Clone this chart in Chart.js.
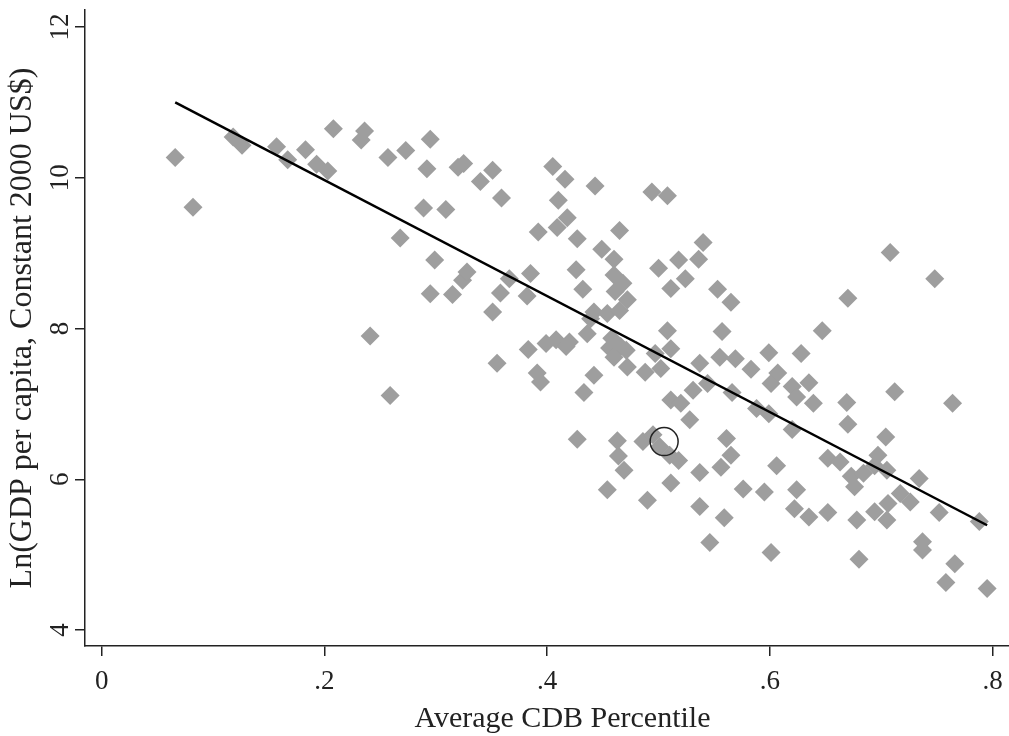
<!DOCTYPE html>
<html>
<head>
<meta charset="utf-8">
<title>CDB percentile vs GDP per capita</title>
<script src="https://cdn.jsdelivr.net/npm/chart.js@4.4.0/dist/chart.umd.min.js"></script>
<style>
  body { margin: 0; background: #fff; overflow: hidden; }
  canvas { display: block; }
</style>
</head>
<body>
<!-- canvas is wider than the window: the original figure is cropped on the right -->
<canvas id="cdbScatter" width="1040" height="736"></canvas>
<script>
// country points: average CDB percentile vs ln(GDP per capita)
const cdbPercentile = [
  0.066, 0.082, 0.118, 0.126, 0.157, 0.167, 0.183, 0.193, 0.203, 0.208, 0.233, 0.236, 0.241, 0.257, 0.259, 0.268, 0.273, 0.289, 0.292, 0.295, 0.295, 0.299, 0.309, 0.315,
  0.320, 0.325, 0.324, 0.328, 0.340, 0.351, 0.351, 0.355, 0.358, 0.359, 0.366, 0.382, 0.383, 0.385, 0.391, 0.392, 0.394, 0.399, 0.405, 0.408, 0.409, 0.410, 0.416, 0.417, 0.418, 0.420,
  0.426, 0.427, 0.427, 0.432, 0.433, 0.436, 0.439, 0.442, 0.442, 0.443, 0.449, 0.454, 0.454, 0.456, 0.458, 0.460, 0.460, 0.460, 0.461, 0.463, 0.464, 0.465, 0.465, 0.466, 0.468, 0.469, 0.471, 0.472, 0.472,
  0.486, 0.488, 0.490, 0.494, 0.495, 0.497, 0.500, 0.501, 0.502, 0.508, 0.508, 0.510, 0.511, 0.511, 0.511, 0.511, 0.518, 0.518, 0.520, 0.524, 0.528, 0.531, 0.536, 0.537, 0.537, 0.537, 0.540, 0.544, 0.546,
  0.553, 0.555, 0.556, 0.557, 0.559, 0.561, 0.565, 0.565, 0.566, 0.569, 0.576, 0.583, 0.588, 0.595, 0.599, 0.599, 0.601, 0.601, 0.606, 0.607,
  0.620, 0.620, 0.622, 0.624, 0.624, 0.628, 0.635, 0.635, 0.639, 0.647, 0.652, 0.652, 0.663, 0.669, 0.670, 0.670, 0.673, 0.676, 0.678, 0.680, 0.684, 0.694, 0.694, 0.697,
  0.704, 0.705, 0.705, 0.706, 0.708, 0.712, 0.717, 0.726, 0.734, 0.737, 0.737, 0.748, 0.752, 0.758, 0.764, 0.766, 0.788, 0.795
];
const lnGdp = [
  10.27, 9.61, 10.54, 10.43, 10.41, 10.24, 10.37, 10.18, 10.09, 10.65, 10.50, 10.62, 7.90, 10.27, 7.11, 9.20, 10.36, 9.60, 10.12, 8.46, 10.51, 8.91, 9.58, 8.45,
  10.14, 10.19, 8.64, 8.75, 9.95, 10.10, 8.22, 7.54, 8.47, 9.73, 8.66, 8.43, 7.72, 8.73, 7.41, 9.28, 7.29, 7.80, 10.15, 7.85, 9.34, 9.70, 9.98, 7.76, 9.47, 7.82,
  8.78, 9.19, 6.53, 8.52, 7.15, 7.93, 8.13, 8.22, 7.38, 9.89, 9.05, 5.86, 8.20, 7.74, 7.87, 7.62, 8.92, 8.71, 8.49, 6.51, 6.31, 8.24, 9.30, 7.76, 8.60, 6.12, 7.71, 8.38, 7.49,
  6.50, 7.42, 5.72, 9.81, 6.59, 7.67, 8.80, 6.43, 7.47, 7.97, 9.76, 6.32, 8.53, 7.73, 7.05, 5.95, 8.91, 6.25, 7.01, 8.66, 6.79, 7.18, 8.92, 7.54, 6.09, 5.64, 9.14, 7.27, 5.16,
  8.52, 7.62, 6.16, 7.96, 5.49, 6.54, 8.35, 6.32, 7.15, 7.60, 5.87, 7.46, 6.94, 5.83, 7.68, 6.87, 5.03, 7.27, 6.18, 7.41,
  7.23, 6.66, 5.61, 7.09, 5.86, 7.67, 7.28, 5.50, 7.01, 7.97, 6.28, 5.56, 6.23, 7.02, 8.40, 6.73, 6.04, 5.90, 5.46, 4.94, 6.08, 6.18, 5.57, 6.32,
  6.56, 6.12, 5.46, 5.68, 9.01, 7.16, 5.81, 5.70, 6.01, 5.17, 5.06, 8.66, 5.56, 4.63, 7.01, 4.88, 5.44, 4.55
];

// fitted line end points
const fitX = [0.066, 0.795];
const fitY = [11.0, 5.39];

// highlighted country (circled)
const markX = [0.505];
const markY = [6.50];

const xTicks = [0, 0.2, 0.4, 0.6, 0.8];
const xTickLabels = ['0', '.2', '.4', '.6', '.8'];
const yTicks = [4, 6, 8, 10, 12];
const yTickLabels = ['4', '6', '8', '10', '12'];

const FONT = "'Liberation Serif', 'Times New Roman', serif";
const INK = '#222';

const toPoints = (xs, ys) => xs.map((x, i) => ({ x: x, y: ys[i] }));

// Stata style rotated y tick labels
const yLabelPlugin = {
  id: 'yLabels',
  afterDraw(chart) {
    const scale = chart.scales.y;
    const ctx = chart.ctx;
    ctx.save();
    ctx.fillStyle = INK;
    ctx.font = '27px ' + FONT;
    ctx.textAlign = 'center';
    ctx.textBaseline = 'alphabetic';
    yTicks.forEach((v, i) => {
      const py = scale.getPixelForValue(v);
      ctx.save();
      ctx.translate(scale.right - 17, py);
      ctx.rotate(-Math.PI / 2);
      ctx.fillText(yTickLabels[i], 0, 0);
      ctx.restore();
    });
    ctx.restore();
  }
};

new Chart(document.getElementById('cdbScatter'), {
  type: 'scatter',
  data: {
    datasets: [
      {
        data: toPoints(markX, markY),
        pointStyle: 'circle',
        pointRadius: 14,
        backgroundColor: 'rgba(0,0,0,0)',
        borderColor: INK,
        borderWidth: 1.5,
        order: 1
      },
      {
        type: 'line',
        data: toPoints(fitX, fitY),
        borderColor: '#000',
        borderWidth: 2.5,
        pointRadius: 0,
        fill: false,
        order: 2
      },
      {
        data: toPoints(cdbPercentile, lnGdp),
        pointStyle: 'rectRot',
        pointRadius: 9.5,
        backgroundColor: '#9e9e9e',
        borderWidth: 0,
        order: 3
      }
    ]
  },
  options: {
    responsive: false,
    animation: false,
    // no auto padding: it reserves room for the point radius and shifts the axes
    layout: { autoPadding: false, padding: { left: 0, right: 0, top: 10, bottom: 0 } },
    plugins: {
      legend: { display: false },
      tooltip: { enabled: false }
    },
    scales: {
      x: {
        type: 'linear',
        min: -0.015,
        max: 0.8425,
        afterBuildTicks: (scale) => { scale.ticks = xTicks.map(v => ({ value: v })); },
        afterFit: (scale) => {
          scale.height = 90;
          scale.paddingLeft = 0;
          scale.paddingRight = 0;
        },
        grid: { drawOnChartArea: false, drawTicks: true, tickLength: 10, color: INK, lineWidth: 1.5 },
        border: { display: true, color: INK, width: 1.5 },
        ticks: {
          padding: 10,
          color: INK,
          font: { family: FONT, size: 27 },
          maxRotation: 0,
          callback: (value, i) => xTickLabels[i]
        },
        title: {
          display: true,
          text: 'Average CDB Percentile',
          color: INK,
          font: { family: FONT, size: 30, lineHeight: 1.1 },
          padding: { top: 0, bottom: 0 }
        }
      },
      y: {
        type: 'linear',
        min: 3.788,
        max: 12.2255,
        afterBuildTicks: (scale) => { scale.ticks = yTicks.map(v => ({ value: v })); },
        afterFit: (scale) => {
          scale.width = 85;
          scale.paddingTop = 0;
          scale.paddingBottom = 0;
        },
        grid: { drawOnChartArea: false, drawTicks: true, tickLength: 10, color: INK, lineWidth: 1.5 },
        border: { display: true, color: INK, width: 1.5 },
        ticks: { display: false },
        title: {
          display: true,
          text: 'Ln(GDP per capita, Constant 2000 US$)',
          color: INK,
          font: { family: FONT, size: 32, lineHeight: 1.1 },
          padding: { top: 5, bottom: 0 }
        }
      }
    }
  },
  plugins: [yLabelPlugin]
});
</script>
</body>
</html>
